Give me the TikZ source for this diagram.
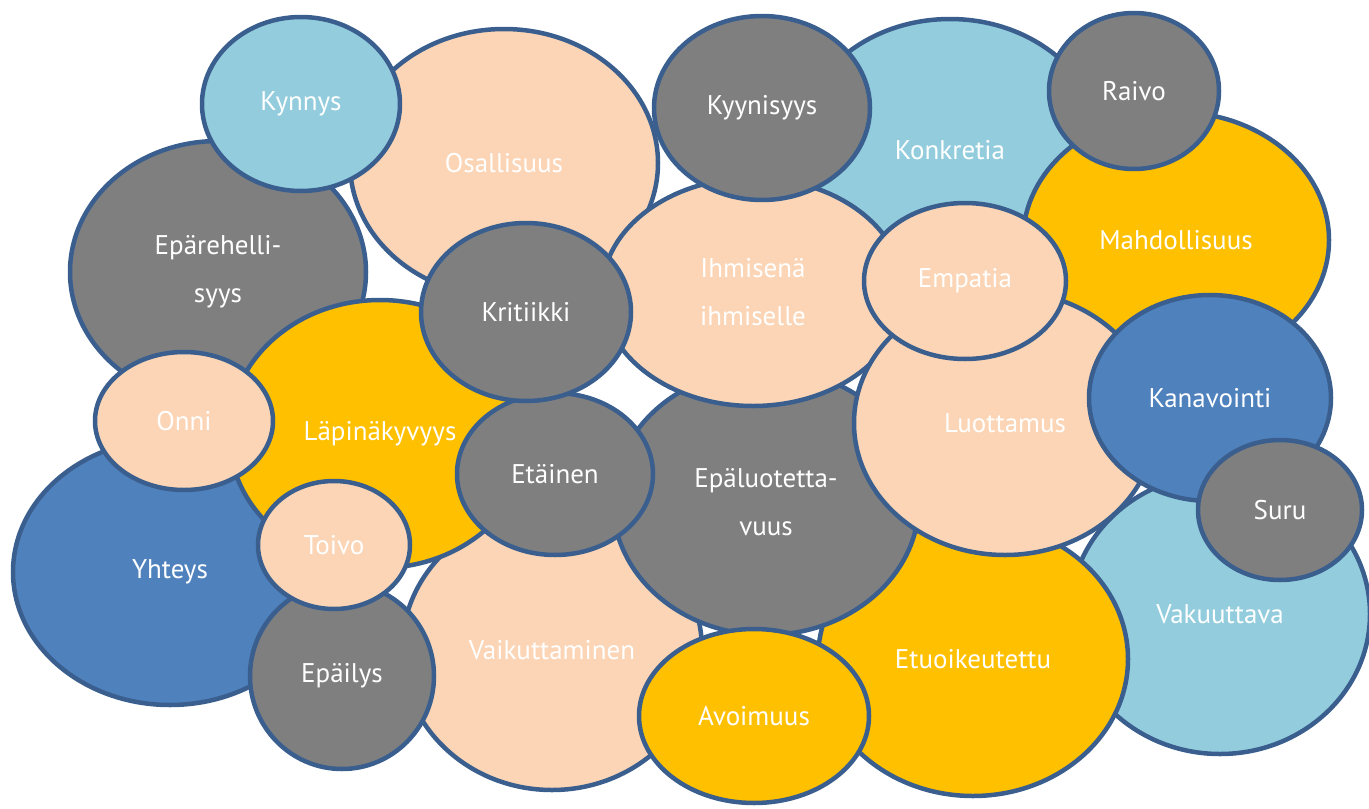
\documentclass[tikz,border=0pt]{standalone}
\usepackage{fontspec}
\setsansfont{PT Sans}
\usetikzlibrary{shapes.geometric}

\definecolor{edgec}{HTML}{3A5F8E}
\definecolor{gryc}{HTML}{7F7F7F}
\definecolor{pchc}{HTML}{FBD5B5}
\definecolor{gldc}{HTML}{FFC000}
\definecolor{skyc}{HTML}{93CDDD}
\definecolor{seac}{HTML}{4F81BD}

\begin{document}
\begin{tikzpicture}[
    x=1pt, y=-1pt,
    bub/.style={
        draw=edgec, ellipse, line width=4.5pt, inner sep=0pt,
        text=white, align=center, font=\sffamily\fontsize{27}{48}\selectfont
    },
    gry/.style={bub, fill=gryc},
    pch/.style={bub, fill=pchc},
    gld/.style={bub, fill=gldc},
    sky/.style={bub, fill=skyc},
    sea/.style={bub, fill=seac},
    sz/.style 2 args={minimum width=#1pt, minimum height=#2pt},
]
    \useasboundingbox (0,0) rectangle (1369,809);

    % back row
    \node[gry, sz={296}{262}] (eparehell) at (218,272) {Epärehelli-\\syys};
    \node[pch, sz={308}{268}] (osallis) at (504,163) {Osallisuus};
    \node[sky, sz={198}{174}] (kynnys) at (301,104) {Kynnys};
    \node[sky, sz={306}{262}] (konkr) at (950,150) {Konkretia};
    \node[gld, sz={306}{256}] (mahdoll) at (1176,240) {Mahdollisuus};
    \node[gry, sz={170}{156}] (raivo) at (1134,91) {Raivo};
    \node[sky, sz={300}{280}] (vakuut) at (1220,614) {Vakuuttava};
    \node[gld, sz={310}{274}] (etuoik) at (973,659) {Etuoikeutettu};
    \node[pch, sz={300}{280}] (vaikutt) at (552,650) {Vaikuttaminen};
    \node[gry, sz={306}{266}] (epaluot) at (766,502) {Epäluotetta-\\vuus};

    % middle row
    \node[pch, sz={302}{228}] (ihmisena) at (753,292) {Ihmisenä\\ihmiselle};
    \node[gry, sz={216}{184}] (kyynis) at (762,108) {Kyynisyys};
    \node[pch, sz={302}{264}] (luottam) at (1005,423) {Luottamus};
    \node[pch, sz={202}{156}] (empatia) at (965,281) {Empatia};
    \node[sea, sz={242}{206}] (kanav) at (1210,398) {Kanavointi};
    \node[gry, sz={164}{140}] (suru) at (1280,510) {Suru};

    % front row
    \node[sea, sz={314}{266}] (yhteys) at (170,572) {Yhteys};
    \node[gld, sz={302}{268}] (lapinak) at (380,434) {Läpinäkyvyys};
    \node[pch, sz={178}{138}] (onni) at (184,421) {Onni};
    \node[gry, sz={196}{162}] (etainen) at (555,474) {Etäinen};
    \node[gry, sz={210}{178}] (kritiik) at (526,312) {Kritiikki};
    \node[gry, sz={184}{186}] (epailys) at (342,676) {Epäilys};
    \node[pch, sz={152}{128}] (toivo) at (334,545) {Toivo};
    \node[gld, sz={230}{174}] (avoim) at (754,716) {Avoimuus};

\end{tikzpicture}
\end{document}
